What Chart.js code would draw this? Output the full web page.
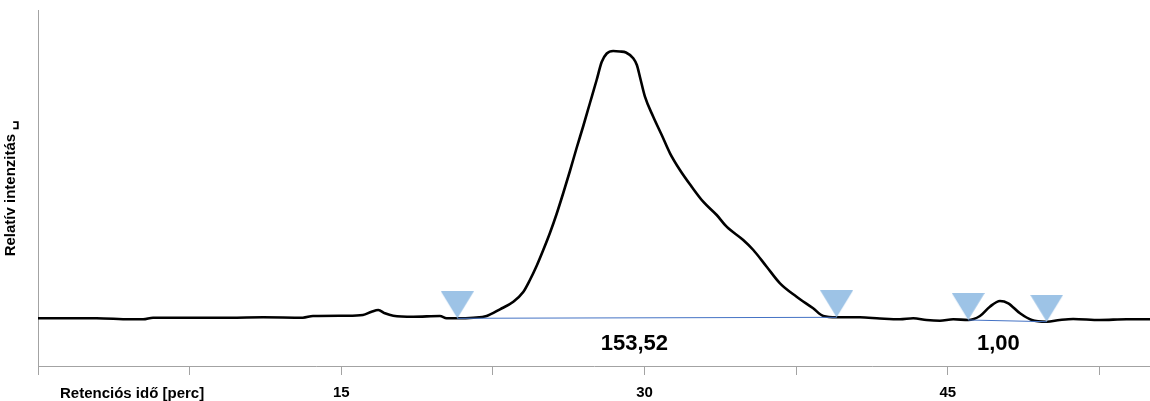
<!DOCTYPE html>
<html>
    <head>
        <title>Kromatogram</title>
        <meta charset="utf-8">
        <script src="https://cdn.jsdelivr.net/npm/chart.js"></script>
        <style>
            html, body { margin: 0; padding: 0; background: #fff; }
            .chart-container { position: relative; width: 1150px; height: 401px; }
        </style>
    </head>
    <body>
        <div class="chart-container">
            <canvas id="myChart"></canvas>
        </div>
        <script>
            // retention time [min] and relative intensity
            var retentionTime = [0, 1.25, 2.9, 4.55, 5.2, 5.69, 7.85, 9.5, 11.13, 13.1, 13.6, 15.27, 16.07, 16.5, 16.83, 17.16, 17.57, 18.56, 19.88, 20.21,
                20.74, 21.53, 22.19, 22.85, 23.51, 24.0, 24.33, 24.66, 24.99, 25.32, 25.65, 25.98, 26.31, 26.64, 26.97, 27.3, 27.63, 27.88, 28.13, 28.45,
                28.78, 29.08, 29.44, 29.62, 29.77, 30.02, 30.43, 30.85, 31.26, 31.75, 32.33, 32.9, 33.57, 34.06, 34.88, 35.38, 36.04, 36.7, 37.52, 38.34,
                38.84, 39.5, 40.65, 41.64, 42.63, 43.29, 43.95, 44.61, 45.27, 46.01, 46.59, 47.08, 47.58, 47.99, 48.57, 49.15, 49.89, 50.54, 51.2, 52.52, 53.84, 55];
            var intensity = [-0.3, -0.3, -0.3, -1.3, -1.3, 0.3, 0.3, 0.3, 0.7, 0.3, 2, 2.3, 3, 6.3, 8, 4.7, 2.3, 1.3, 2, -0.3,
                -0.3, 0.3, 2, 8.7, 16.3, 26, 38, 52, 68, 85, 104, 125, 147, 170, 192, 215, 238, 256, 264.5, 267,
                266.5, 265.5, 259.7, 253, 241.3, 221.3, 201.3, 183, 164.7, 148, 131.3, 116.3, 103, 91.3, 78, 68, 51.3, 34.7, 21.3, 9.7,
                2, 0.7, 0.7, -0.5, -1.3, -0.3, -2, -2.7, -1.3, -2, 2, 11.3, 17, 14.7, 4.7, -2, -3.7, -2, -1, -2, -1.3, -1.3];

            // integration limits (start, end, start, end)
            var boundaryTime = [20.74, 39.5, 46.01, 49.89];
            var boundaryIntensity = [-0.3, 0.7, -2, -3.7];

            // peak areas
            var peakAreas = ['153,52', '1,00'];
            var areaLabelTime = [29.5, 47.5];
            var areaLabelIntensity = -25.5;

            var tickValues = [15, 30, 45];
            var xTitle = 'Retenciós idő [perc]';
            var yTitle = 'Relatív intenzitás \u2423';

            var axisGray = '#a3a3a3';
            var labelFont = { family: "'Liberation Sans', Arial, sans-serif", size: 15, weight: 'bold' };

            // inverted triangle marker, tip sits on the data point
            var marker = document.createElement('canvas');
            marker.width = 33;
            marker.height = 54;
            var mctx = marker.getContext('2d');
            mctx.fillStyle = '#9dc3e6';
            mctx.beginPath();
            mctx.moveTo(0, 0);
            mctx.lineTo(33, 0);
            mctx.lineTo(16.5, 27);
            mctx.closePath();
            mctx.fill();

            var signal = retentionTime.map(function(t, i) { return { x: t, y: intensity[i] }; });
            var markers = boundaryTime.map(function(t, i) { return { x: t, y: boundaryIntensity[i] }; });

            var textPlugin = {
                id: 'peakText',
                afterDraw: function(chart) {
                    var ctx = chart.ctx;
                    var xs = chart.scales.x, ys = chart.scales.y;
                    ctx.save();
                    ctx.fillStyle = '#000';
                    ctx.textBaseline = 'middle';
                    ctx.font = 'bold 22px "Liberation Sans", Arial, sans-serif';
                    ctx.textAlign = 'center';
                    peakAreas.forEach(function(txt, i) {
                        ctx.fillText(txt, xs.getPixelForValue(areaLabelTime[i]), ys.getPixelForValue(areaLabelIntensity));
                    });
                    ctx.font = 'bold 15px "Liberation Sans", Arial, sans-serif';
                    ctx.textAlign = 'left';
                    ctx.fillText(xTitle, chart.chartArea.left + 22, xs.top + 27.5);
                    ctx.restore();
                }
            };

            var ctx = document.getElementById('myChart').getContext('2d');
            var chart = new Chart(ctx, {
                type: 'line',
                data: {
                    datasets: [{
                        label: 'markers',
                        data: markers,
                        showLine: false,
                        pointStyle: marker,
                        pointRadius: 10
                    }, {
                        label: 'baseline1',
                        data: markers.slice(0, 2),
                        borderColor: '#4472c4',
                        borderWidth: 1,
                        pointRadius: 0,
                        tension: 0
                    }, {
                        label: 'baseline2',
                        data: markers.slice(2, 4),
                        borderColor: '#4472c4',
                        borderWidth: 1,
                        pointRadius: 0,
                        tension: 0
                    }, {
                        label: 'signal',
                        data: signal,
                        borderColor: '#000',
                        borderWidth: 2.6,
                        pointRadius: 0,
                        cubicInterpolationMode: 'monotone'
                    }]
                },
                options: {
                    responsive: true,
                    maintainAspectRatio: false,
                    animation: false,
                    layout: { autoPadding: false, padding: { top: 10, left: 0, right: 0, bottom: 0 } },
                    plugins: { legend: { display: false }, tooltip: { enabled: false } },
                    scales: {
                        x: {
                            type: 'linear',
                            min: 0,
                            max: 55,
                            afterFit: function(s) { s.height = 35; s.paddingLeft = 0; s.paddingRight = 0; },
                            border: { color: axisGray, width: 1 },
                            grid: { drawOnChartArea: false, drawTicks: true, tickLength: 9, color: axisGray },
                            ticks: {
                                stepSize: 7.5,
                                includeBounds: false,
                                autoSkip: false,
                                maxRotation: 0,
                                padding: 0,
                                color: '#000',
                                font: { family: labelFont.family, size: 15, weight: 'bold', lineHeight: 2.4 },
                                callback: function(v) { return tickValues.indexOf(v) >= 0 ? String(v) : ''; }
                            }
                        },
                        y: {
                            min: -48,
                            max: 308,
                            afterFit: function(s) { s.width = 38; s.paddingTop = 0; s.paddingBottom = 0; },
                            border: { color: axisGray, width: 1 },
                            grid: { display: false },
                            ticks: { display: false },
                            title: {
                                display: true,
                                text: yTitle,
                                color: '#000',
                                font: labelFont,
                                padding: { top: 2, bottom: 0 }
                            }
                        }
                    }
                },
                plugins: [textPlugin]
            });
        </script>
    </body>
</html>
